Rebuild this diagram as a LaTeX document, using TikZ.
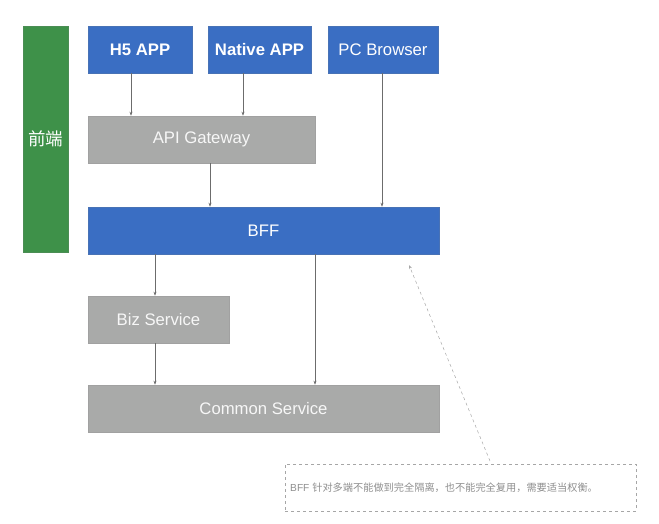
\documentclass[tikz,border=0pt]{standalone}
\usepackage{fontspec}
\setmainfont{Liberation Sans}
\newfontfamily\cjk{Noto Sans CJK SC}
\usetikzlibrary{arrows.meta}
\definecolor{bblue}{HTML}{3A6EC3}
\definecolor{bgreen}{HTML}{3E9149}
\definecolor{bgray}{HTML}{A9AAA9}
\definecolor{lgray}{HTML}{8E8E8E}
\begin{document}
\begin{tikzpicture}[x=1pt,y=-1pt,
  box/.style={draw=#1!80!gray, line width=0.6pt, fill=#1, inner sep=0pt, text=white, font=\fontsize{16.7}{18}\selectfont},
  conn/.style={draw=gray!85!black, line width=0.5pt, -{Stealth[length=4pt,width=3pt]}},
]
\useasboundingbox (0,0) rectangle (659,524);
\node[box=bgreen, minimum width=45pt, minimum height=226pt, font=\cjk\fontsize{17.5}{19}\selectfont] (fe) at (45.5,139) {前端};
\node[box=bblue, minimum width=104pt, minimum height=47pt, font=\fontsize{16.7}{18}\selectfont\bfseries] (h5) at (140,49.5) {H5 APP};
\node[box=bblue, minimum width=103pt, minimum height=47pt, font=\fontsize{16.7}{18}\selectfont\bfseries] (na) at (259.5,49.5) {Native APP};
\node[box=bblue, minimum width=110pt, minimum height=47pt] (pc) at (383,49.5) {PC Browser};
\node[box=bgray, text=white!94!gray, minimum width=227pt, minimum height=47pt] (api) at (201.5,139.5) {API Gateway};
\node[box=bblue, minimum width=351pt, minimum height=47pt] (bff) at (263.5,230.5) {BFF};
\node[box=bgray, text=white!94!gray, minimum width=141pt, minimum height=47pt] (biz) at (158.5,319.5) {Biz Service};
\node[box=bgray, text=white!94!gray, minimum width=351pt, minimum height=47pt] (cs) at (263.5,408.5) {Common Service};
\node[draw=gray!70, dashed, line width=0.6pt, minimum width=351pt, minimum height=47pt, inner sep=0pt] (note) at (460.5,487.5) {};
\node[anchor=west, text=lgray, font=\fontsize{10.2}{12}\selectfont, inner sep=0pt] (nt) at (290,488) {BFF {\cjk 针对多端不能做到完全隔离，也不能完全复用，需要适当权衡。}};
\coordinate (a1) at (131,0);
\coordinate (a2) at (243,0);
\coordinate (a3) at (382,0);
\coordinate (a4) at (210,0);
\coordinate (a5) at (155,0);
\coordinate (a6) at (315,0);
\draw[conn] (h5.south -| a1) -- (api.north -| a1);
\draw[conn] (na.south -| a2) -- (api.north -| a2);
\draw[conn] (pc.south -| a3) -- (bff.north -| a3);
\draw[conn] (api.south -| a4) -- (bff.north -| a4);
\draw[conn] (bff.south -| a5) -- (biz.north -| a5);
\draw[conn] (biz.south -| a5) -- (cs.north -| a5);
\draw[conn] (bff.south -| a6) -- (cs.north -| a6);
\coordinate (tip) at (409,265);
\coordinate (ns) at (490,461);
\draw[draw=gray!70, dashed, line width=0.5pt, -{Stealth[length=4pt,width=3pt]}] (ns) -- (tip);
\end{tikzpicture}
\end{document}
